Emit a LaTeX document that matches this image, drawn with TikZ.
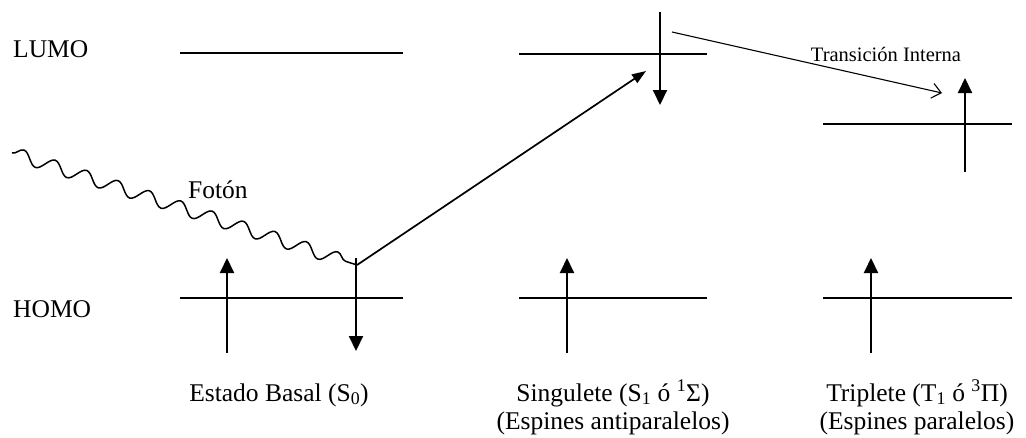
\documentclass[tikz,border=0pt]{standalone}
\usepackage{fontspec}
\setmainfont{Liberation Serif}
\usetikzlibrary{arrows.meta, positioning, decorations.pathmorphing}

\begin{document}
\begin{tikzpicture}[
        x=1pt, y=-1pt,
        every node/.style={font=\fontsize{25.5}{29}\selectfont, inner sep=0pt},
        level/.style={line width=2pt},
        spin/.style={-{Triangle[length=15pt, width=14pt]}, line width=2pt}
    ]

    \tikzset{
    photon/.style={decorate, decoration={snake, segment length=33pt, amplitude=6.5pt}, line width=1.5pt},
    excite/.style={-{Triangle[length=14pt, width=10pt]}, line width=1.7pt},
    internal/.style={-{Straight Barb[length=9pt, width=15pt]}, line width=1.1pt}
}

    \useasboundingbox (0,0) rectangle (1026,437);

    \node (LUMO) [anchor=base west] at (13,57) {LUMO};
    \node (HOMO) [anchor=base west] at (13,317) {HOMO};

    \coordinate (S0-L-a) at (180,53);
    \coordinate (S0-L-b) at (403,53);
    \coordinate (S0-H-a) at (180,298);
    \coordinate (S0-H-b) at (403,298);
    \coordinate (S1-L-a) at (519,54);
    \coordinate (S1-L-b) at (707,54);
    \coordinate (S1-H-a) at (519,298);
    \coordinate (S1-H-b) at (707,298);
    \coordinate (T1-L-a) at (823,124);
    \coordinate (T1-L-b) at (1012,124);
    \coordinate (T1-H-a) at (823,298);
    \coordinate (T1-H-b) at (1012,298);

    \draw[level] (S0-L-a) -- (S0-L-b);
    \draw[level] (S0-H-a) -- (S0-H-b);
    \draw[level] (S1-L-a) -- (S1-L-b);
    \draw[level] (S1-H-a) -- (S1-H-b);
    \draw[level] (T1-L-a) -- (T1-L-b);
    \draw[level] (T1-H-a) -- (T1-H-b);

    \coordinate (S0-up-a) at (227,353);
    \coordinate (S0-up-b) at (227,258);
    \coordinate (S0-dn-a) at (356,258);
    \coordinate (S0-dn-b) at (356,351);
    \coordinate (S1-up-a) at (567,353);
    \coordinate (S1-up-b) at (567,258);
    \coordinate (S1-dn-a) at (660,12);
    \coordinate (S1-dn-b) at (660,105);
    \coordinate (T1-up-a) at (871,353);
    \coordinate (T1-up-b) at (871,258);
    \coordinate (T1-ex-a) at (965,172);
    \coordinate (T1-ex-b) at (965,78);

    \draw[spin] (S0-up-a) -- (S0-up-b);
    \draw[spin] (S0-dn-a) -- (S0-dn-b);
    \draw[spin] (S1-up-a) -- (S1-up-b);
    \draw[spin] (S1-dn-a) -- (S1-dn-b);
    \draw[spin] (T1-up-a) -- (T1-up-b);
    \draw[spin] (T1-ex-a) -- (T1-ex-b);

    \coordinate (light) at (12,153);
    \coordinate (hit) at (357,265);
    \coordinate (jump) at (646,71);
    \coordinate (isc-a) at (672,32);
    \coordinate (isc-b) at (942,93);

    \draw[photon] (light) -- (hit);
    \draw[excite] (hit) -- (jump);
    \draw[internal] (isc-a) -- (isc-b);

    \node (foton) [anchor=base west] at (188,198) {Fotón};
    \node (isc) [anchor=base, font=\fontsize{20.5}{24}\selectfont] at (886,61) {Transición Interna};

    \node (S0-name) [anchor=base] at (279,401) {Estado Basal (S\textsubscript{0})};
    \node (S1-name) [anchor=base] at (613,401) {Singulete (S\textsubscript{1} ó \textsuperscript{1}Σ)};
    \node (S1-note) [anchor=base] at (613,429) {(Espines antiparalelos)};
    \node (T1-name) [anchor=base] at (917,401) {Triplete (T\textsubscript{1} ó \textsuperscript{3}Π)};
    \node (T1-note) [anchor=base] at (917,429) {(Espines paralelos)};
    \end{tikzpicture}
\end{document}
